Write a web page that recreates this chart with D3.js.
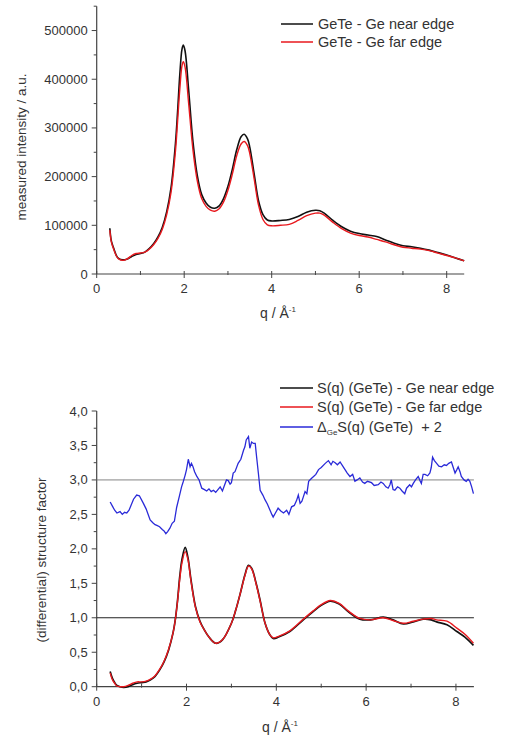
<!DOCTYPE html>
<html><head><meta charset="utf-8">
<script src="https://cdnjs.cloudflare.com/ajax/libs/d3/7.8.5/d3.min.js"></script>
<style>
body{margin:0;background:#fff;}
text{font-family:"Liberation Sans",Arial,sans-serif;fill:#333;}
</style></head>
<body><svg id="c" width="516" height="737"></svg>
<script>
// ---------- Top panel data ----------
const qTop = [0.30,0.33,0.36,0.40,0.45,0.5,0.6,0.7,0.8,0.9,1.0,1.1,1.2,1.3,1.4,1.5,1.6,1.7,1.8,1.85,1.9,1.95,1.98,2.02,2.1,2.2,2.3,2.4,2.5,2.6,2.7,2.8,2.9,3.0,3.1,3.2,3.3,3.37,3.45,3.5,3.6,3.7,3.8,3.9,4.0,4.2,4.4,4.6,4.8,5.0,5.1,5.2,5.4,5.6,5.8,6.0,6.2,6.4,6.6,6.8,7.0,7.2,7.4,7.6,7.8,8.0,8.2,8.4];
const nearI = [94000,70000,60000,50000,38000,32000,29000,31000,36000,40000,42000,45000,52000,62000,76000,96000,128000,178000,268000,335000,410000,462000,470000,458000,380000,272000,202000,163000,146000,137000,135000,140000,155000,180000,215000,255000,282000,287000,277000,260000,205000,150000,122000,111000,109000,110000,112000,118000,127000,131000,130000,125000,110000,97000,88000,83000,80000,77000,70000,63000,58000,56000,53000,49000,44000,39000,33000,27000];
const farI = [90000,68000,58000,48000,37000,31000,28000,31000,38000,42000,43000,45000,51000,60000,73000,92000,122000,168000,252000,315000,380000,428000,436000,425000,352000,255000,191000,155000,139000,131000,129000,134000,148000,172000,205000,243000,267000,272000,263000,247000,195000,141000,112000,101000,99000,100000,102000,110000,120000,125000,125000,121000,106000,93000,84000,79000,76000,71000,66000,60000,55000,53000,51000,48000,43000,38000,33000,27000];
const topYTicks = [0,100000,200000,300000,400000,500000];
const xTicks = [0,2,4,6,8];
const topLegend = ["GeTe - Ge near edge","GeTe - Ge far edge"];

// ---------- Bottom panel data ----------
const qS = [0.30,0.35,0.40,0.45,0.52,0.6,0.7,0.8,0.9,1.0,1.1,1.2,1.3,1.4,1.5,1.6,1.7,1.75,1.8,1.85,1.9,1.97,2.03,2.1,2.2,2.3,2.4,2.5,2.65,2.8,3.0,3.1,3.2,3.3,3.38,3.45,3.55,3.64,3.75,3.85,3.93,4.05,4.3,4.6,4.82,5.0,5.2,5.4,5.6,5.86,6.1,6.38,6.6,6.83,7.05,7.27,7.45,7.57,7.8,8.02,8.2,8.39];
const sNear = [0.22,0.12,0.06,0.02,0.0,-0.01,0.0,0.03,0.05,0.06,0.07,0.10,0.15,0.24,0.36,0.53,0.78,0.97,1.25,1.60,1.85,2.02,1.88,1.55,1.16,0.95,0.82,0.72,0.63,0.68,0.92,1.12,1.36,1.62,1.76,1.72,1.50,1.25,0.92,0.76,0.70,0.72,0.80,0.97,1.09,1.18,1.24,1.20,1.09,0.98,0.97,1.01,0.97,0.91,0.94,0.98,0.97,0.94,0.90,0.80,0.72,0.60];
const sFar = [0.20,0.10,0.05,0.01,0.0,0.0,0.02,0.05,0.07,0.07,0.08,0.11,0.16,0.25,0.37,0.54,0.78,0.97,1.24,1.56,1.80,1.96,1.85,1.53,1.15,0.94,0.82,0.72,0.63,0.68,0.92,1.12,1.36,1.61,1.75,1.71,1.49,1.24,0.92,0.76,0.71,0.73,0.81,0.98,1.10,1.19,1.25,1.21,1.10,0.99,0.97,1.00,0.96,0.92,0.95,0.98,0.99,0.97,0.95,0.85,0.76,0.63];
const qD = [0.30,0.35,0.40,0.45,0.52,0.57,0.62,0.67,0.72,0.82,0.89,0.95,1.04,1.10,1.19,1.25,1.30,1.34,1.40,1.46,1.50,1.54,1.58,1.63,1.68,1.73,1.78,1.84,1.89,1.93,1.97,2.00,2.04,2.08,2.11,2.14,2.18,2.23,2.28,2.34,2.40,2.45,2.50,2.55,2.60,2.65,2.70,2.75,2.80,2.85,2.89,2.93,2.97,3.00,3.04,3.08,3.15,3.21,3.27,3.30,3.33,3.38,3.41,3.45,3.49,3.53,3.56,3.60,3.64,3.70,3.75,3.80,3.86,3.90,3.93,3.98,4.04,4.10,4.16,4.23,4.28,4.34,4.40,4.45,4.49,4.53,4.57,4.60,4.64,4.68,4.72,4.78,4.83,4.88,4.94,5.00,5.09,5.16,5.22,5.26,5.31,5.36,5.42,5.48,5.53,5.58,5.64,5.70,5.75,5.80,5.86,5.92,5.97,6.03,6.12,6.18,6.27,6.33,6.38,6.44,6.49,6.53,6.56,6.60,6.64,6.70,6.75,6.80,6.86,6.90,6.97,7.01,7.05,7.10,7.16,7.20,7.23,7.27,7.31,7.37,7.42,7.45,7.48,7.52,7.57,7.62,7.68,7.74,7.79,7.84,7.90,7.94,7.98,8.02,8.05,8.09,8.12,8.18,8.23,8.27,8.31,8.35,8.39];
const dGe = [2.68,2.62,2.56,2.52,2.54,2.50,2.53,2.52,2.56,2.72,2.78,2.77,2.66,2.58,2.42,2.38,2.35,2.34,2.32,2.28,2.26,2.22,2.25,2.30,2.37,2.40,2.60,2.76,2.90,2.98,3.07,3.15,3.30,3.19,3.24,3.20,3.12,3.05,3.00,2.88,2.86,2.84,2.87,2.83,2.85,2.82,2.86,2.90,2.84,2.93,3.00,2.99,2.94,2.96,3.10,3.12,3.24,3.30,3.43,3.48,3.58,3.63,3.46,3.55,3.53,3.53,3.34,3.10,2.85,2.78,2.71,2.65,2.56,2.50,2.46,2.52,2.59,2.55,2.52,2.56,2.50,2.61,2.63,2.70,2.78,2.66,2.69,2.75,2.83,2.80,2.98,3.02,3.05,3.08,3.15,3.18,3.24,3.28,3.22,3.27,3.25,3.22,3.26,3.20,3.15,3.10,3.05,3.08,2.98,3.00,3.03,2.97,2.95,2.98,2.96,2.92,2.93,2.97,2.95,2.90,2.88,2.93,3.00,2.86,2.85,2.90,2.88,2.84,2.80,2.88,2.93,2.90,2.95,3.00,3.05,2.99,2.95,3.08,3.08,3.06,3.10,3.18,3.33,3.28,3.24,3.20,3.19,3.22,3.21,3.24,3.26,3.18,3.10,3.15,3.19,3.12,3.05,3.00,2.98,3.01,2.98,2.90,2.80];
const botYTicks = [0,0.5,1,1.5,2,2.5,3,3.5,4];
const refLines = [3,1];

const svg = d3.select("#c");
const axisCol = "#444";

function drawAxes(x, y, yTicks, yMinor, xMinor, yFmt, yTop){
  const g = svg.append("g");
  const x0 = x.range()[0], x1 = x.range()[1];
  const yb = y.range()[0];
  g.append("line").attr("x1",x0).attr("x2",x1).attr("y1",yb).attr("y2",yb).attr("stroke",axisCol).attr("stroke-width",1.2);
  g.append("line").attr("x1",x0).attr("x2",x0).attr("y1",yb).attr("y2",y(yTop)).attr("stroke",axisCol).attr("stroke-width",1.2);
  xTicks.forEach(t=>{
    g.append("line").attr("x1",x(t)).attr("x2",x(t)).attr("y1",yb-3).attr("y2",yb+4).attr("stroke",axisCol);
    g.append("text").attr("x",x(t)).attr("y",yb+19).attr("text-anchor","middle").attr("font-size",13).text(t);
  });
  xMinor.forEach(t=>{
    g.append("line").attr("x1",x(t)).attr("x2",x(t)).attr("y1",yb-3).attr("y2",yb+1).attr("stroke",axisCol);
  });
  yTicks.forEach(t=>{
    g.append("line").attr("x1",x0-5).attr("x2",x0).attr("y1",y(t)).attr("y2",y(t)).attr("stroke",axisCol);
    g.append("text").attr("x",x0-9).attr("y",y(t)+4.5).attr("text-anchor","end").attr("font-size",13).text(yFmt(t));
  });
  yMinor.forEach(t=>{
    g.append("line").attr("x1",x0-3).attr("x2",x0).attr("y1",y(t)).attr("y2",y(t)).attr("stroke",axisCol);
  });
}

function xTitle(cx, by){
  const t = svg.append("text").attr("x",cx).attr("y",by).attr("text-anchor","middle").attr("font-size",14);
  t.append("tspan").text("q / Å");
  t.append("tspan").attr("font-size",8).attr("dy",-6).text("-1");
}

// ---------- Top panel ----------
const xT = d3.scaleLinear().domain([0,8.4]).range([96.7,464.2]);
const yT = d3.scaleLinear().domain([0,550000]).range([274,6.2]);
drawAxes(xT, yT, topYTicks, [50000,150000,250000,350000,450000,550000], [1,3,5,7], d=>String(d), 550000);
const lineT = (arr)=>d3.line().x((d,i)=>xT(qTop[i])).y(d=>yT(d)).curve(d3.curveCatmullRom.alpha(0.5))(arr);
svg.append("path").attr("d",lineT(nearI)).attr("fill","none").attr("stroke","#111").attr("stroke-width",1.6);
svg.append("path").attr("d",lineT(farI)).attr("fill","none").attr("stroke","#e8191e").attr("stroke-width",1.4);
svg.append("text").attr("transform","translate(26,147) rotate(-90)").attr("text-anchor","middle").attr("font-size",13.5).text("measured intensity / a.u.");
xTitle(278, 318);
[["#111",24],["#e8191e",42]].forEach((c,i)=>{
  svg.append("line").attr("x1",281).attr("x2",313).attr("y1",c[1]).attr("y2",c[1]).attr("stroke",c[0]).attr("stroke-width",1.5);
  svg.append("text").attr("x",318).attr("y",c[1]+5).attr("font-size",14.5).attr("fill","#222").text(topLegend[i]);
});

// ---------- Bottom panel ----------
const xB = d3.scaleLinear().domain([0,8.4]).range([96.7,473.9]);
const yB = d3.scaleLinear().domain([0,4]).range([686.7,411]);
const fmtC = d=>d3.format(".1f")(d).replace(".",",");
drawAxes(xB, yB, botYTicks, [0.25,0.75,1.25,1.75,2.25,2.75,3.25,3.75], [1,3,5,7], fmtC, 4);
svg.append("line").attr("x1",xB(0)).attr("x2",xB(8.4)).attr("y1",yB(refLines[0])).attr("y2",yB(refLines[0])).attr("stroke","#777").attr("stroke-width",0.9);
svg.append("line").attr("x1",xB(0)).attr("x2",xB(8.4)).attr("y1",yB(refLines[1])).attr("y2",yB(refLines[1])).attr("stroke","#222").attr("stroke-width",1.1);
const lineS = (qs,arr,c)=>d3.line().x((d,i)=>xB(qs[i])).y(d=>yB(d)).curve(c)(arr);
svg.append("path").attr("d",lineS(qD,dGe,d3.curveLinear)).attr("fill","none").attr("stroke","#2a2ad8").attr("stroke-width",1.3);
svg.append("path").attr("d",lineS(qS,sNear,d3.curveCatmullRom.alpha(0.5))).attr("fill","none").attr("stroke","#111").attr("stroke-width",1.7);
svg.append("path").attr("d",lineS(qS,sFar,d3.curveCatmullRom.alpha(0.5))).attr("fill","none").attr("stroke","#e8191e").attr("stroke-width",1.4);
svg.append("text").attr("transform","translate(46,560) rotate(-90)").attr("text-anchor","middle").attr("font-size",13.5).text("(differential) structure factor");
xTitle(280, 732);
const botLeg = [["#111",388,"S(q) (GeTe) - Ge near edge"],["#e8191e",407,"S(q) (GeTe) - Ge far edge"],["#2a2ad8",427,null]];
botLeg.forEach(c=>{
  svg.append("line").attr("x1",280).attr("x2",313).attr("y1",c[1]).attr("y2",c[1]).attr("stroke",c[0]).attr("stroke-width",1.5);
  const t = svg.append("text").attr("x",317).attr("y",c[1]+5).attr("font-size",14.5).attr("fill","#222");
  if(c[2]) t.text(c[2]);
  else {
    t.append("tspan").text("Δ");
    t.append("tspan").attr("font-size",8).attr("dy",3).text("Ge");
    t.append("tspan").attr("dy",-3).text("S(q) (GeTe)\u00a0\u00a0+ 2");
  }
});
</script></body></html>
